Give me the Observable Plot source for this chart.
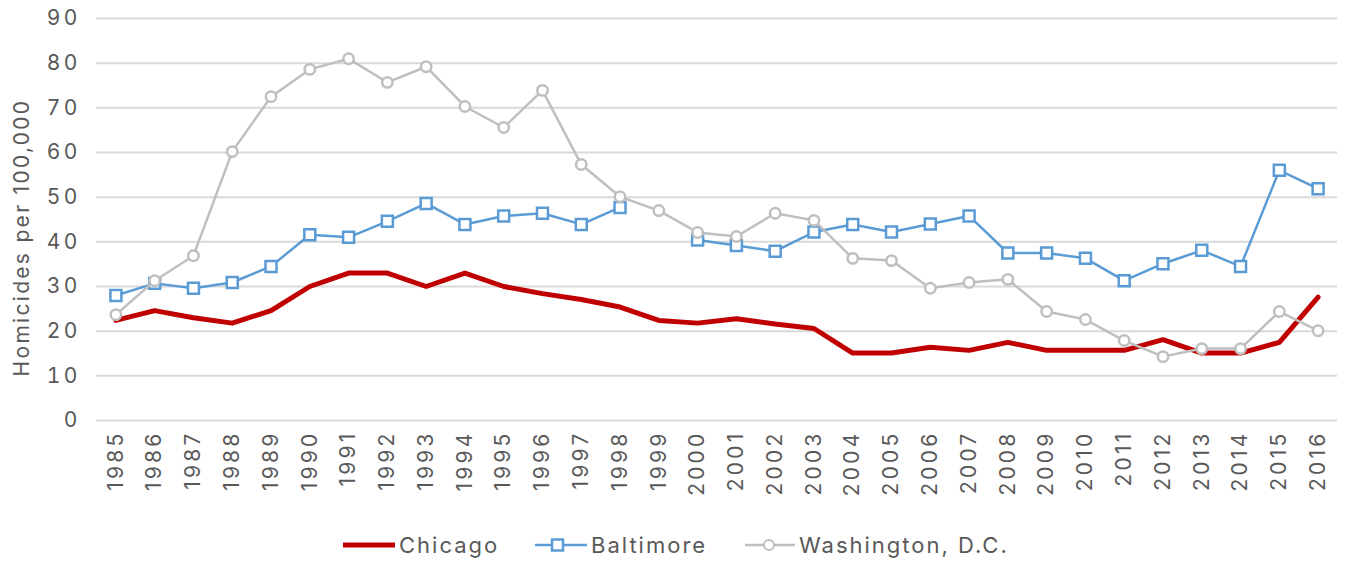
<!DOCTYPE html>
<html>
<head>
<meta charset="utf-8">
<script src="https://cdn.jsdelivr.net/npm/d3@7"></script>
<script src="https://cdn.jsdelivr.net/npm/@observablehq/plot@0.6"></script>
<style>
  body { margin: 0; background: #fff; font-family: Inter, sans-serif; }
  #legend { position: relative; height: 41px; font-size: 22px; color: #595959; letter-spacing: 2px; }
  .item { position: absolute; top: 12px; display: flex; align-items: center; }
  .item svg { margin-right: 3px; }
  #chart svg g[aria-label="x-axis tick label"] text,
  #chart svg g[aria-label="y-axis tick label"] text { letter-spacing: 3.2px; }
  #chart svg g[aria-label="text"] text { letter-spacing: 2.3px; }
</style>
</head>
<body>
<div id="chart"></div>
<div id="legend"></div>
<script>
const years = d3.range(1985, 2017);
const chicago = [22.4,24.6,23.0,21.8,24.6,30.0,33.0,33.0,30.0,33.0,30.0,28.4,27.1,25.4,22.4,21.8,22.8,21.6,20.6,15.1,15.1,16.4,15.7,17.5,15.7,15.7,15.7,18.1,15.1,15.1,17.5,27.6];
const baltimore = [28.0,30.7,29.6,30.9,34.5,41.6,41.0,44.6,48.6,43.9,45.8,46.4,43.9,47.7,null,40.4,39.2,37.9,42.2,43.9,42.2,44.0,45.8,37.5,37.5,36.3,31.3,35.1,38.1,34.5,56.0,51.9];
const washington = [23.7,31.3,36.9,60.2,72.5,78.6,81.0,75.7,79.2,70.3,65.6,73.9,57.3,50.1,47.0,42.1,41.2,46.4,44.8,36.3,35.8,29.6,30.9,31.6,24.4,22.6,17.9,14.3,16.1,16.1,24.4,20.1];
const yTicks = [0,10,20,30,40,50,60,70,80,90];
const seriesNames = ["Chicago","Baltimore","Washington, D.C."];
const colors = ["#c00000","#5b9bd5","#bfbfbf"];
const yTitle = "Homicides per 100,000";

const rows = (vals) => years.map((y, i) => ({year: String(y), value: vals[i]}));
const dChi = rows(chicago), dBal = rows(baltimore), dWas = rows(washington);

const chart = Plot.plot({
  width: 1346,
  height: 520,
  marginLeft: 96,
  marginRight: 9,
  marginTop: 18,
  marginBottom: 100,
  style: {fontFamily: "Inter, sans-serif", fontSize: "21px", color: "#595959", background: "#fff"},
  x: {type: "point", padding: 0.5, round: false, domain: years.map(String), label: null},
  y: {domain: [0, 90], label: null},
  marks: [
    Plot.gridY(yTicks, {stroke: "#d9d9d9", strokeOpacity: 1, strokeWidth: 2}),
    Plot.axisY({ticks: yTicks, tickSize: 0, tickPadding: 16, fontSize: 21, label: null}),
    Plot.axisX({tickRotate: -90, tickSize: 0, tickPadding: 10, fontSize: 21, label: null}),
    Plot.text([yTitle], {frameAnchor: "left", textAnchor: "middle", rotate: -90, dx: -74, dy: 18, fontSize: 21, fill: "#595959"}),
    Plot.lineY(dChi, {x: "year", y: "value", stroke: colors[0], strokeWidth: 5}),
    Plot.lineY(dBal, {x: "year", y: "value", stroke: colors[1], strokeWidth: 2.5}),
    Plot.dot(dBal, {x: "year", y: "value", symbol: "square", r: 6.2, stroke: colors[1], strokeWidth: 2.5, fill: "#fff"}),
    Plot.lineY(dWas, {x: "year", y: "value", stroke: colors[2], strokeWidth: 2.5}),
    Plot.dot(dWas, {x: "year", y: "value", symbol: "circle", r: 5.2, stroke: colors[2], strokeWidth: 2.5, fill: "#fff"})
  ]
});
document.getElementById("chart").appendChild(chart);

const legend = document.getElementById("legend");
const swatch = (i) => {
  if (i === 0) return `<svg width="54" height="20"><line x1="1" y1="10" x2="53" y2="10" stroke="${colors[0]}" stroke-width="5"/></svg>`;
  if (i === 1) return `<svg width="54" height="20"><line x1="1" y1="10" x2="53" y2="10" stroke="${colors[1]}" stroke-width="2.5"/><rect x="18" y="4.5" width="11" height="11" fill="#fff" stroke="${colors[1]}" stroke-width="2.5"/></svg>`;
  return `<svg width="52" height="20"><line x1="1" y1="10" x2="51" y2="10" stroke="${colors[2]}" stroke-width="2.5"/><circle cx="25" cy="10" r="5" fill="#fff" stroke="${colors[2]}" stroke-width="2"/></svg>`;
};
const legendLeft = [342, 534, 744];
legend.innerHTML = seriesNames.map((n, i) => `<span class="item" style="left:${legendLeft[i]}px">${swatch(i)}<span>${n}</span></span>`).join("");
</script>
</body>
</html>
